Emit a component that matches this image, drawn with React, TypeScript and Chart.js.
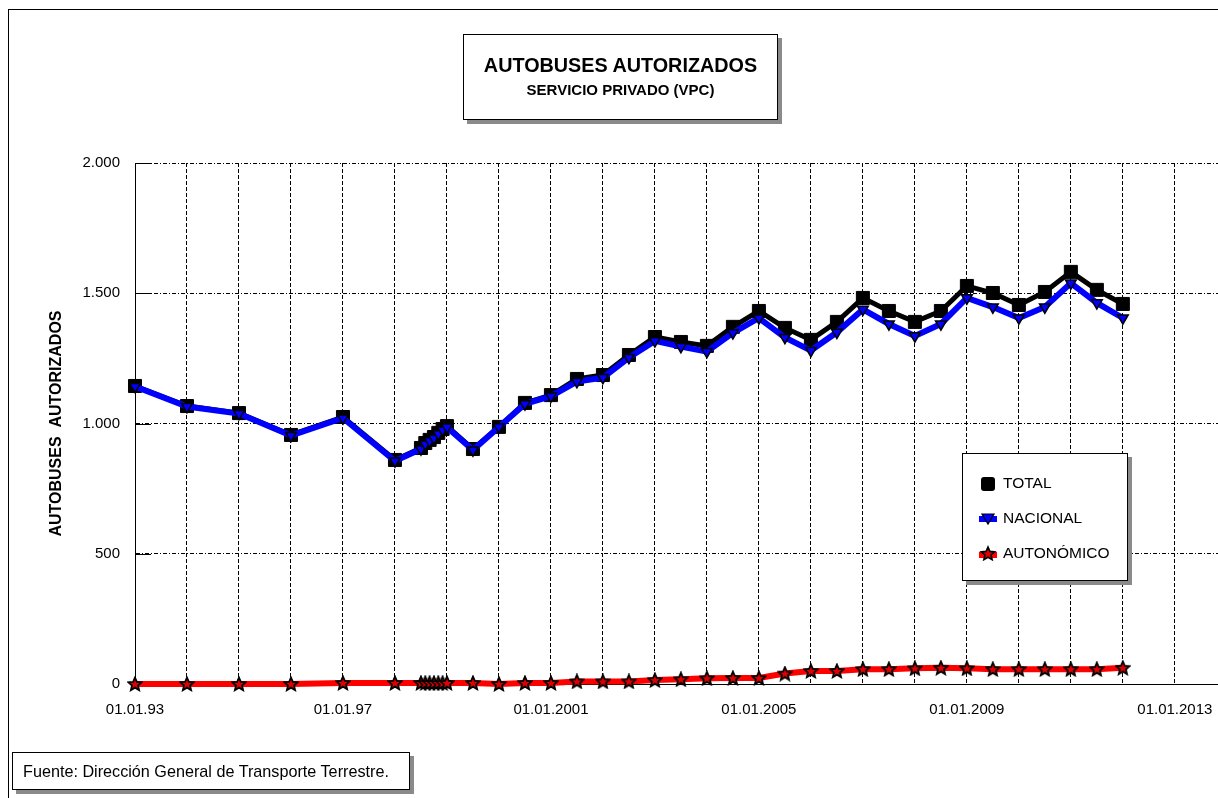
import React, { useEffect, useRef } from 'react';
import { Chart, registerables } from 'chart.js';

Chart.register(...registerables);

// ---- DATA ----
const dates = [
  '01.01.1993', '01.01.1994', '01.01.1995', '01.01.1996', '01.01.1997', '01.01.1998',
  '01.07.1998', '01.08.1998', '01.09.1998', '01.10.1998', '01.11.1998', '01.12.1998', '01.01.1999',
  '01.07.1999', '01.01.2000', '01.07.2000', '01.01.2001', '01.07.2001', '01.01.2002', '01.07.2002',
  '01.01.2003', '01.07.2003', '01.01.2004', '01.07.2004', '01.01.2005', '01.07.2005', '01.01.2006',
  '01.07.2006', '01.01.2007', '01.07.2007', '01.01.2008', '01.07.2008', '01.01.2009', '01.07.2009',
  '01.01.2010', '01.07.2010', '01.01.2011', '01.07.2011', '01.01.2012',
];

const total = [
  1144, 1067, 1040, 956, 1025, 860,
  906, 925, 937, 948, 964, 979, 990,
  902, 987, 1079, 1109, 1171, 1186, 1263,
  1332, 1313, 1298, 1371, 1432, 1367, 1321,
  1390, 1482, 1432, 1390, 1432, 1528, 1501,
  1455, 1505, 1582, 1513, 1459,
];

const nacional = [
  1142, 1065, 1038, 954, 1021, 856,
  902, 921, 933, 944, 960, 975, 986,
  898, 987, 1075, 1105, 1161, 1176, 1253,
  1317, 1295, 1276, 1348, 1405, 1330, 1280,
  1350, 1438, 1382, 1336, 1382, 1482, 1447,
  1405, 1447, 1539, 1463, 1405,
];

const autonomico = [
  0, 0, 0, 0, 4, 4,
  4, 4, 4, 4, 4, 4, 4,
  4, 0, 4, 4, 10, 10, 10,
  15, 18, 22, 23, 23, 40, 50,
  50, 57, 57, 60, 62, 60, 57,
  57, 57, 57, 57, 62,
];

const seriesNames = ['TOTAL', 'NACIONAL', 'AUTONÓMICO'];

const gridYears = [
  1993, 1994, 1995, 1996, 1997, 1998, 1999, 2000, 2001, 2002, 2003,
  2004, 2005, 2006, 2007, 2008, 2009, 2010, 2011, 2012, 2013,
];
const xLabelYears = [1993, 1997, 2001, 2005, 2009, 2013];
const xLabels = ['01.01.93', '01.01.97', '01.01.2001', '01.01.2005', '01.01.2009', '01.01.2013'];

const yTicks = [0, 500, 1000, 1500, 2000];
const yTickLabels = ['0', '500', '1.000', '1.500', '2.000'];

const titleText = 'AUTOBUSES AUTORIZADOS';
const subtitleText = 'SERVICIO PRIVADO (VPC)';
const yTitle = 'AUTOBUSES  AUTORIZADOS';
const sourceText = 'Fuente: Dirección General de Transporte Terrestre.';

// ---- HELPERS ----
const FONT = "'Liberation Sans', Arial, sans-serif";

function toYear(d: string): number {
  const [dd, mm, yyyy] = d.split('.').map(Number);
  return yyyy + (mm - 1) / 12 + (dd - 1) / 365;
}

function makeStar(size: number, fill: string, stroke: string): HTMLCanvasElement {
  const c = document.createElement('canvas');
  c.width = size;
  c.height = size;
  const ctx = c.getContext('2d')!;
  const cx = size / 2;
  const cy = size / 2 + 0.5;
  const R = size / 2 - 1;
  const r = R * 0.45;
  ctx.beginPath();
  for (let i = 0; i < 10; i++) {
    const ang = -Math.PI / 2 + (i * Math.PI) / 5;
    const rad = i % 2 === 0 ? R : r;
    ctx.lineTo(cx + rad * Math.cos(ang), cy + rad * Math.sin(ang));
  }
  ctx.closePath();
  ctx.fillStyle = fill;
  ctx.fill();
  ctx.lineWidth = 1.8;
  ctx.strokeStyle = stroke;
  ctx.stroke();
  return c;
}

const innerTicks = {
  id: 'innerTicks',
  beforeDatasetsDraw(chart: any) {
    const { ctx, chartArea, scales } = chart;
    const y = scales.y;
    ctx.save();
    ctx.strokeStyle = '#000';
    ctx.lineWidth = 1;
    yTicks.forEach((v) => {
      const py = Math.round(y.getPixelForValue(v)) + 0.5;
      ctx.beginPath();
      ctx.moveTo(chartArea.left, py);
      ctx.lineTo(chartArea.left + 16, py);
      ctx.stroke();
    });
    ctx.restore();
  },
};

export default function App() {
  const canvasRef = useRef<HTMLCanvasElement | null>(null);

  useEffect(() => {
    if (!canvasRef.current) return;
    const star = makeStar(16, '#E00000', '#000');
    const xs = dates.map(toYear);
    const mk = (arr: number[]) => arr.map((v, i) => ({ x: xs[i], y: v }));

    const chart = new Chart(canvasRef.current, {
      type: 'line',
      data: {
        datasets: [
          {
            label: seriesNames[0],
            data: mk(total),
            borderColor: '#000',
            backgroundColor: '#000',
            borderWidth: 5,
            pointStyle: 'rect',
            pointRadius: 9.2,
            pointBackgroundColor: '#000',
            pointBorderColor: '#000',
            pointBorderWidth: 1,
            tension: 0,
            clip: false,
            order: 2,
          } as any,
          {
            label: seriesNames[1],
            data: mk(nacional),
            borderColor: '#0000FF',
            backgroundColor: '#0000FF',
            borderWidth: 6,
            pointStyle: 'triangle',
            pointRotation: 180,
            pointRadius: 6.2,
            pointBackgroundColor: '#0000FF',
            pointBorderColor: '#000',
            pointBorderWidth: 1.5,
            tension: 0,
            clip: false,
            order: 1,
          } as any,
          {
            label: seriesNames[2],
            data: mk(autonomico),
            borderColor: '#FF0000',
            backgroundColor: '#FF0000',
            borderWidth: 6,
            pointStyle: star,
            pointRadius: 8,
            tension: 0,
            clip: false,
            order: 0,
          } as any,
        ],
      },
      options: {
        animation: false,
        responsive: false,
        devicePixelRatio: 1,
        layout: { autoPadding: false, padding: { left: 0, top: 163, right: 0, bottom: 0 } },
        plugins: {
          legend: { display: false },
          tooltip: { enabled: false },
          title: { display: false },
        },
        scales: {
          x: {
            type: 'linear',
            min: 1993,
            max: 2013.83,
            afterBuildTicks: (scale: any) => {
              scale.ticks = gridYears.map((v) => ({ value: v }));
            },
            afterFit: (scale: any) => {
              scale.height = 114;
              scale.paddingRight = 0;
              scale.paddingLeft = 0;
            },
            ticks: {
              autoSkip: false,
              maxRotation: 0,
              minRotation: 0,
              padding: 17,
              color: '#000',
              font: { family: FONT, size: 15 },
              callback: (v: any) => {
                const i = xLabelYears.indexOf(Number(v));
                return i >= 0 ? xLabels[i] : '';
              },
            },
            grid: { color: '#000', lineWidth: 1, drawTicks: false },
            border: { display: true, color: '#000', width: 1, dash: [4, 2] },
          },
          y: {
            type: 'linear',
            min: 0,
            max: 2000,
            afterBuildTicks: (scale: any) => {
              scale.ticks = yTicks.map((v) => ({ value: v }));
            },
            afterFit: (scale: any) => {
              scale.width = 135;
            },
            ticks: {
              padding: 15,
              color: '#000',
              font: { family: FONT, size: 15 },
              callback: (v: any) => {
                const i = yTicks.indexOf(Number(v));
                return i >= 0 ? yTickLabels[i] : '';
              },
            },
            title: {
              display: true,
              text: yTitle,
              color: '#000',
              font: { family: FONT, size: 16, weight: 'bold' },
              padding: { top: 47, bottom: 4 },
            },
            grid: { color: '#000', lineWidth: 1, drawTicks: false },
            border: { display: true, color: '#000', width: 1, dash: [4, 2, 1, 2] },
          },
        },
      } as any,
      plugins: [innerTicks],
    });
    return () => chart.destroy();
  }, []);

  const box: React.CSSProperties = {
    position: 'absolute',
    boxSizing: 'border-box',
    border: '1px solid #000',
    background: '#fff',
    boxShadow: '4px 4px 0 #8a8a8a',
  };

  const legendRow = (top: number, marker: React.ReactNode, text: string) => (
    <div style={{ position: 'absolute', left: 0, top: top - 12, height: 24, width: '100%' }}>
      <svg width={24} height={24} style={{ position: 'absolute', left: 13, top: 0 }}>
        {marker}
      </svg>
      <span
        style={{
          position: 'absolute',
          left: 40,
          top: 3,
          fontSize: 15.5,
          lineHeight: '18px',
          color: '#000',
          whiteSpace: 'nowrap',
        }}
      >
        {text}
      </span>
    </div>
  );

  const starPts = (() => {
    const pts: string[] = [];
    for (let i = 0; i < 10; i++) {
      const ang = -Math.PI / 2 + (i * Math.PI) / 5;
      const rad = i % 2 === 0 ? 7 : 3.2;
      pts.push(`${(12 + rad * Math.cos(ang)).toFixed(2)},${(13 + rad * Math.sin(ang)).toFixed(2)}`);
    }
    return pts.join(' ');
  })();

  return (
    <div
      style={{
        position: 'absolute',
        left: 0,
        top: 0,
        width: 1218,
        height: 798,
        overflow: 'hidden',
        background: '#fff',
        fontFamily: FONT,
      }}
    >
      <div
        style={{
          position: 'absolute',
          left: 8,
          top: 9,
          width: 1400,
          height: 1000,
          borderTop: '1px solid #000',
          borderLeft: '1px solid #000',
        }}
      />
      <canvas
        ref={canvasRef}
        width={1218}
        height={798}
        style={{ position: 'absolute', left: 0, top: 0, width: 1218, height: 798 }}
      />
      <div style={{ ...box, left: 463, top: 34, width: 315, height: 86 }}>
        <div
          style={{
            position: 'absolute',
            left: 0,
            width: '100%',
            top: 19,
            textAlign: 'center',
            fontWeight: 'bold',
            fontSize: 19.8,
            lineHeight: '23px',
            color: '#000',
            whiteSpace: 'nowrap',
          }}
        >
          {titleText}
        </div>
        <div
          style={{
            position: 'absolute',
            left: 0,
            width: '100%',
            top: 46,
            textAlign: 'center',
            fontWeight: 'bold',
            fontSize: 15,
            lineHeight: '18px',
            color: '#000',
            whiteSpace: 'nowrap',
          }}
        >
          {subtitleText}
        </div>
      </div>
      <div style={{ ...box, left: 962, top: 453, width: 166, height: 128 }}>
        {legendRow(
          29,
          <rect x={5} y={6} width={14} height={14} rx={3} ry={3} fill="#000" />,
          seriesNames[0]
        )}
        {legendRow(
          64,
          <g>
            <rect x={3} y={10} width={18} height={6} fill="#0000FF" />
            <polygon points="6,8 18,8 12,18" fill="#0000FF" stroke="#000" strokeWidth={1.2} />
          </g>,
          seriesNames[1]
        )}
        {legendRow(
          99,
          <g>
            <rect x={3} y={11} width={18} height={6} fill="#FF0000" />
            <polygon points={starPts} fill="#E00000" stroke="#000" strokeWidth={1.6} />
          </g>,
          seriesNames[2]
        )}
      </div>
      <div style={{ ...box, left: 12, top: 752, width: 398, height: 38 }}>
        <div
          style={{
            position: 'absolute',
            left: 10,
            top: 9,
            fontSize: 16.2,
            lineHeight: '19px',
            color: '#000',
            whiteSpace: 'nowrap',
          }}
        >
          {sourceText}
        </div>
      </div>
    </div>
  );
}
